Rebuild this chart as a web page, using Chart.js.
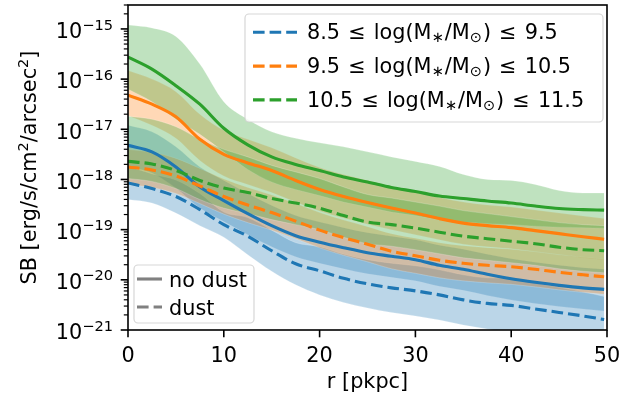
<!DOCTYPE html>
<html>
<head>
<meta charset="utf-8">
<script src="https://cdn.jsdelivr.net/npm/chart.js@4.4.0/dist/chart.umd.min.js"></script>
<style>
  html, body { margin: 0; padding: 0; background: #fff; }
  #wrap { width: 634px; height: 399px; }
</style>
</head>
<body>
<div id="wrap"><canvas id="sb" width="634" height="399"></canvas></div>
<script>
// radial profiles, values are log10(SB) in erg/s/cm^2/arcsec^2
const radius = [0, 2.5, 5, 7.5, 10, 12.5, 15, 17.5, 20, 22.5, 25, 27.5, 30, 32.5, 35, 37.5, 40, 42.5, 45, 47.5, 49.7];

// 8.5 - 9.5
const lowNoDust     = [-17.32,-17.45,-17.75,-18.15,-18.42,-18.68,-18.92,-19.12,-19.25,-19.36,-19.46,-19.53,-19.60,-19.71,-19.79,-19.89,-19.98,-20.05,-20.11,-20.16,-20.19];
const lowNoDustHi   = [-16.92,-17.05,-17.35,-17.75,-18.02,-18.28,-18.52,-18.72,-18.85,-18.96,-19.06,-19.13,-19.20,-19.31,-19.39,-19.49,-19.58,-19.65,-19.71,-19.76,-19.79];
const lowNoDustLo   = [-17.74,-17.87,-18.17,-18.57,-18.84,-19.10,-19.34,-19.54,-19.67,-19.78,-19.88,-19.95,-20.02,-20.13,-20.21,-20.31,-20.40,-20.47,-20.53,-20.58,-20.62];
const lowDust       = [-18.07,-18.18,-18.34,-18.60,-18.90,-19.13,-19.42,-19.68,-19.82,-19.97,-20.08,-20.16,-20.22,-20.30,-20.40,-20.47,-20.51,-20.58,-20.65,-20.72,-20.79];
const lowDustHi     = [-17.74,-17.89,-18.01,-18.28,-18.65,-18.76,-19.01,-19.26,-19.34,-19.49,-19.60,-19.67,-19.72,-19.80,-19.90,-19.96,-19.97,-20.06,-20.15,-20.24,-20.33];
const lowDustLo     = [-18.40,-18.47,-18.67,-18.92,-19.15,-19.50,-19.83,-20.10,-20.30,-20.45,-20.56,-20.65,-20.72,-20.80,-20.90,-20.98,-21.05,-21.10,-21.15,-21.20,-21.25];

// 9.5 - 10.5
const midNoDust     = [-16.32,-16.50,-16.75,-17.20,-17.50,-17.67,-17.82,-18.02,-18.20,-18.34,-18.46,-18.57,-18.67,-18.78,-18.87,-18.92,-18.96,-19.02,-19.08,-19.14,-19.19];
const midNoDustHi   = [-15.83,-16.00,-16.25,-16.70,-17.02,-17.20,-17.37,-17.57,-17.76,-17.90,-18.02,-18.14,-18.25,-18.36,-18.45,-18.51,-18.55,-18.61,-18.67,-18.73,-18.78];
const midNoDustLo   = [-16.73,-16.92,-17.18,-17.62,-17.93,-18.10,-18.26,-18.45,-18.63,-18.77,-18.89,-19.00,-19.10,-19.20,-19.29,-19.34,-19.38,-19.44,-19.50,-19.56,-19.60];
const midDust       = [-17.75,-17.81,-17.93,-18.13,-18.34,-18.51,-18.66,-18.83,-19.01,-19.16,-19.29,-19.43,-19.52,-19.61,-19.67,-19.71,-19.74,-19.79,-19.85,-19.90,-19.94];
const midDustHi     = [-17.40,-17.46,-17.58,-17.78,-17.99,-18.16,-18.31,-18.48,-18.66,-18.81,-18.94,-19.08,-19.17,-19.26,-19.32,-19.36,-19.39,-19.44,-19.50,-19.55,-19.59];
const midDustLo     = [-18.10,-18.16,-18.28,-18.48,-18.69,-18.86,-19.01,-19.18,-19.36,-19.51,-19.64,-19.78,-19.87,-19.96,-20.02,-20.06,-20.09,-20.14,-20.20,-20.25,-20.29];

// 10.5 - 11.5
const highNoDust    = [-15.56,-15.80,-16.13,-16.50,-16.98,-17.31,-17.55,-17.70,-17.82,-17.95,-18.05,-18.16,-18.24,-18.33,-18.38,-18.43,-18.47,-18.53,-18.58,-18.60,-18.61];
const highNoDustHi  = [-14.92,-14.98,-15.15,-15.70,-16.45,-16.80,-17.05,-17.18,-17.27,-17.35,-17.45,-17.55,-17.64,-17.74,-17.90,-18.00,-18.02,-18.10,-18.22,-18.27,-18.27];
const highNoDustLo  = [-16.20,-16.45,-16.80,-17.10,-17.45,-17.80,-18.05,-18.20,-18.32,-18.45,-18.55,-18.65,-18.72,-18.80,-18.85,-18.88,-18.90,-18.93,-18.95,-18.96,-18.97];
const highDust      = [-17.64,-17.69,-17.82,-18.02,-18.17,-18.26,-18.38,-18.47,-18.57,-18.72,-18.85,-18.90,-18.97,-19.05,-19.13,-19.18,-19.23,-19.28,-19.35,-19.40,-19.42];
const highDustHi    = [-16.74,-16.80,-16.95,-17.20,-17.40,-17.55,-17.72,-17.85,-17.98,-18.15,-18.30,-18.37,-18.45,-18.53,-18.62,-18.68,-18.74,-18.80,-18.86,-18.90,-18.92];
const highDustLo    = [-17.98,-18.04,-18.18,-18.40,-18.57,-18.68,-18.80,-18.90,-19.00,-19.15,-19.28,-19.33,-19.40,-19.48,-19.56,-19.61,-19.66,-19.71,-19.78,-19.83,-19.86];

const xTicks = [0, 10, 20, 30, 40, 50];
const yDecades = [-21, -20, -19, -18, -17, -16, -15];

const massBins = [
  { lo: '8.5',  hi: '9.5',  color: '#1f77b4', fill: 'rgba(31,119,180,0.3)',
    noDust: [lowNoDust, lowNoDustHi, lowNoDustLo], dust: [lowDust, lowDustHi, lowDustLo] },
  { lo: '9.5',  hi: '10.5', color: '#ff7f0e', fill: 'rgba(255,127,14,0.3)',
    noDust: [midNoDust, midNoDustHi, midNoDustLo], dust: [midDust, midDustHi, midDustLo] },
  { lo: '10.5', hi: '11.5', color: '#2ca02c', fill: 'rgba(44,160,44,0.3)',
    noDust: [highNoDust, highNoDustHi, highNoDustLo], dust: [highDust, highDustHi, highDustLo] }
];

const FONT = '"DejaVu Sans", sans-serif';
const FS = 20.8;      // base font size
const SUB = 14.6;     // super/subscript size
const LW = 3.1;
const DASH = [11.6, 5];

const pts = arr => arr.map((v, i) => ({ x: radius[i], y: Math.pow(10, v) }));

// bands go underneath, lines on top; later bins are drawn over earlier ones
const datasets = [];
let depth = 100;
massBins.forEach(b => {
  [b.noDust, b.dust].forEach(([, hi, lo]) => {
    datasets.push({ data: pts(hi), fill: '+1', backgroundColor: b.fill,
      borderColor: 'rgba(255,255,255,0.25)', borderWidth: 0.8, order: depth-- });
    datasets.push({ data: pts(lo), fill: false,
      borderColor: 'rgba(255,255,255,0.25)', borderWidth: 0.8, order: depth-- });
  });
});
massBins.forEach(b => {
  datasets.push({ data: pts(b.noDust[0]), borderColor: b.color, borderWidth: LW,
    borderJoinStyle: 'round', fill: false, order: depth-- });
  datasets.push({ data: pts(b.dust[0]), borderColor: b.color, borderWidth: LW,
    borderDash: DASH, borderCapStyle: 'butt', fill: false, order: depth-- });
});

// draws a run of text pieces, some raised or lowered in a smaller font
function drawPieces(ctx, pieces, x, y) {
  pieces.forEach(p => {
    ctx.font = (p.size || FS) + 'px ' + FONT;
    ctx.fillText(p.t, x, y + (p.dy || 0));
    x += ctx.measureText(p.t).width + (p.gap || 0);
  });
  return x;
}
function piecesWidth(ctx, pieces) {
  let w = 0;
  pieces.forEach(p => {
    ctx.font = (p.size || FS) + 'px ' + FONT;
    w += ctx.measureText(p.t).width + (p.gap || 0);
  });
  return w;
}

const axesPlugin = {
  id: 'axes',
  afterDraw(chart) {
    const { ctx, chartArea: a, scales: { x, y } } = chart;
    ctx.save();
    ctx.fillStyle = '#000';
    ctx.strokeStyle = '#000';
    ctx.textBaseline = 'alphabetic';

    // x ticks
    ctx.lineWidth = 1.6;
    xTicks.forEach(v => {
      const px = x.getPixelForValue(v);
      ctx.beginPath(); ctx.moveTo(px, a.bottom); ctx.lineTo(px, a.bottom + 7.3); ctx.stroke();
      ctx.font = FS + 'px ' + FONT;
      ctx.textAlign = 'center';
      ctx.fillText(String(v), px, a.bottom + 31.5);
    });

    // y ticks, major and minor
    ctx.textAlign = 'left';
    yDecades.forEach(n => {
      const py = y.getPixelForValue(Math.pow(10, n));
      ctx.lineWidth = 1.6;
      ctx.beginPath(); ctx.moveTo(a.left, py); ctx.lineTo(a.left - 7.3, py); ctx.stroke();
      const lab = [{ t: '10' }, { t: '\u2212' + Math.abs(n), size: SUB, dy: -8.7 }];
      const w = piecesWidth(ctx, lab);
      drawPieces(ctx, lab, a.left - 15 - w, py + 9.3);
      ctx.lineWidth = 1.2;
      for (let k = 2; k <= 9; k++) {
        const v = k * Math.pow(10, n);
        if (v > y.max * 1.0001) break;
        const pm = y.getPixelForValue(v);
        ctx.beginPath(); ctx.moveTo(a.left, pm); ctx.lineTo(a.left - 4.2, pm); ctx.stroke();
      }
    });

    // frame
    ctx.lineWidth = 1.6;
    ctx.strokeRect(a.left, a.top, a.right - a.left, a.bottom - a.top);

    // axis titles
    ctx.font = FS + 'px ' + FONT;
    ctx.textAlign = 'center';
    ctx.fillText('r [pkpc]', (a.left + a.right) / 2, a.bottom + 58);

    const ylab = [{ t: 'SB [erg/s/cm' }, { t: '2', size: SUB, dy: -8.5 }, { t: '/arcsec' },
                  { t: '2', size: SUB, dy: -8.5 }, { t: ']' }];
    ctx.textAlign = 'left';
    ctx.translate(36, (a.top + a.bottom) / 2);
    ctx.rotate(-Math.PI / 2);
    drawPieces(ctx, ylab, -piecesWidth(ctx, ylab) / 2, 0);
    ctx.restore();
  }
};

function legendBox(ctx, x0, y0, x1, y1) {
  ctx.beginPath();
  ctx.roundRect(x0, y0, x1 - x0, y1 - y0, 4);
  ctx.fillStyle = 'rgba(255,255,255,0.8)';
  ctx.fill();
  ctx.strokeStyle = 'rgba(204,204,204,0.8)';
  ctx.lineWidth = 1.2;
  ctx.stroke();
}
function handle(ctx, x0, x1, y, color, dashed) {
  ctx.beginPath();
  ctx.setLineDash(dashed ? DASH : []);
  ctx.lineCap = 'butt';
  ctx.strokeStyle = color;
  ctx.lineWidth = LW;
  ctx.moveTo(x0, y); ctx.lineTo(x1, y); ctx.stroke();
  ctx.setLineDash([]);
}

const legendPlugin = {
  id: 'legends',
  afterDraw(chart) {
    const ctx = chart.ctx;
    ctx.save();
    ctx.textAlign = 'left';
    ctx.textBaseline = 'alphabetic';

    // mass bins, upper right
    legendBox(ctx, 245, 14, 603, 122);
    massBins.forEach((b, i) => {
      const yc = 32.3 + i * 33.8;
      handle(ctx, 253, 297, yc, b.color, true);
      ctx.fillStyle = '#000';
      drawPieces(ctx, [
        { t: b.lo + ' ', gap: 1.5 }, { t: '\u2264', gap: 1.5 }, { t: ' log(M' },
        { t: '\u2217', size: SUB, dy: 3, gap: 1 },
        { t: '/M' }, { t: '\u2299', size: SUB, dy: 3, gap: 1 },
        { t: ') ', gap: 1.5 }, { t: '\u2264', gap: 1.5 }, { t: ' ' + b.hi }
      ], 307, yc + 7);
    });

    // dust / no dust, lower left
    legendBox(ctx, 134, 265, 254, 323);
    [['no dust', false], ['dust', true]].forEach(([label, dashed], i) => {
      const yc = 279 + i * 28;
      handle(ctx, 137, 162, yc, 'rgb(128,128,128)', dashed);
      ctx.fillStyle = '#000';
      ctx.font = FS + 'px ' + FONT;
      ctx.fillText(label, 169, yc + 8);
    });
    ctx.restore();
  }
};

new Chart(document.getElementById('sb').getContext('2d'), {
  type: 'line',
  data: { datasets },
  options: {
    responsive: false,
    animation: false,
    layout: { padding: { left: 128, right: 27, top: 5, bottom: 69 } },
    scales: {
      x: { type: 'linear', min: 0, max: 50, display: false },
      y: { type: 'logarithmic', min: 1e-21, max: 3e-15, display: false }
    },
    elements: { point: { radius: 0 }, line: { cubicInterpolationMode: 'monotone' } },
    plugins: { legend: { display: false }, tooltip: { enabled: false } }
  },
  plugins: [axesPlugin, legendPlugin]
});
</script>
</body>
</html>
